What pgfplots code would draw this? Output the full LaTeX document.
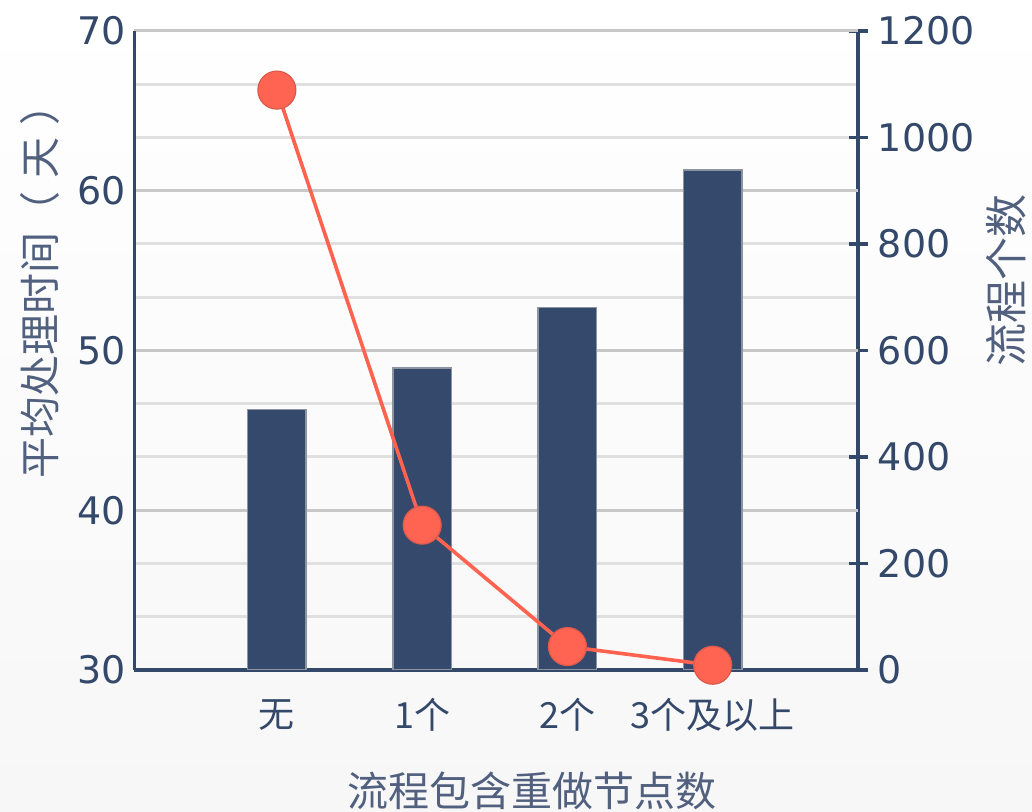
\documentclass[border=0pt]{standalone}
\usepackage{pgfplots}
\pgfplotsset{compat=1.18}
\usepackage{fontspec}
\setmainfont{DejaVu Sans}
\newfontfamily\cjk{Noto Sans CJK SC}

\definecolor{navy}{HTML}{34486A}
\definecolor{labelc}{HTML}{50607E}
\definecolor{barfill}{HTML}{34496C}
\definecolor{baredge}{HTML}{8C94A2}
\definecolor{gridlight}{HTML}{E0E0E0}
\definecolor{griddark}{HTML}{C8C8C8}
\definecolor{linered}{HTML}{FF6350}
\definecolor{markfill}{HTML}{FF6452}
\definecolor{markedge}{HTML}{D95A4C}
\definecolor{bgbottom}{HTML}{F7F7F7}

\pgfplotsset{
  /pgf/number format/assume math mode=true,
  /pgf/number format/1000 sep={},
  frame/.style={
    scale only axis, width=361.75pt, height=319.5pt,
    at={(67.25pt,71pt)}, anchor=south west,
    xmin=-0.98, xmax=4,
  },
  numlabels/.style={font=\fontsize{19}{19}\selectfont, text=navy, inner sep=0pt},
}

\begin{document}
\begin{tikzpicture}
\fill[use as bounding box, top color=white, bottom color=bgbottom] (0,0) rectangle (516pt,406pt);

% right scale: count of processes, light grid every 100
\begin{axis}[frame,
  ymin=0, ymax=1200, scaled y ticks=false,
  axis y line*=right, axis x line=none,
  xtick=\empty,
  ytick={0,200,...,1200}, minor ytick={100,300,...,1100},
  ymajorgrids, yminorgrids,
  major grid style={gridlight, line width=1.5pt},
  minor grid style={gridlight, line width=1.5pt},
  tick align=center, major tick length=9.5pt, minor tick length=0pt,
  ytick style={navy, line width=1.6pt},
  y axis line style={navy, line width=1.6pt},
  yticklabel style={numlabels, anchor=west, xshift=5pt},
  ylabel={\cjk 流程个数},
  ylabel style={at={(axis description cs:1.205,0.61)}, anchor=center,
    font=\fontsize{21.5}{21.5}\selectfont, text=labelc},
]
\end{axis}

% left scale: average handling time, bars
\begin{axis}[frame,
  ymin=30, ymax=70, ytick={30,40,...,70},
  axis y line*=left, axis x line*=bottom,
  ymajorgrids, major grid style={griddark, line width=1.5pt},
  xtick={0,1,2,3}, xticklabels={无,1个,2个,3个及以上},
  major tick length=0pt,
  axis line style={navy, line width=1.6pt},
  xticklabel style={font=\cjk\fontsize{18}{18}\selectfont, text=navy, anchor=center, yshift=-22.5pt},
  yticklabel style={numlabels, anchor=east, xshift=-4.25pt},
  xlabel={\cjk 流程包含重做节点数},
  xlabel style={at={(axis description cs:0.549,-0.189)}, anchor=center,
    font=\fontsize{20.5}{20.5}\selectfont, text=labelc},
  ylabel={\cjk 平均处理时间（\hspace{0.3em}天\hspace{0.3em}）},
  ylabel style={at={(axis description cs:-0.131,0.608)}, anchor=center,
    font=\fontsize{20.5}{20.5}\selectfont, text=labelc},
]
\addplot[ybar, bar width=29.2pt, bar shift=0pt, fill=barfill, draw=baredge, line width=0.8pt]
  coordinates {(0,46.3) (1,48.9) (2,52.7) (3,61.3)};
\end{axis}

% right scale again: count line on top of the bars
\begin{axis}[frame, ymin=0, ymax=1200, hide axis, clip=false]
\addplot[linered, line width=1.8pt, mark=*, mark size=9.5pt,
  mark options={fill=markfill, draw=markedge, line width=0.6pt}]
  coordinates {(0,1089) (1,272) (2,44) (3,9)};
\end{axis}
\end{tikzpicture}
\end{document}
